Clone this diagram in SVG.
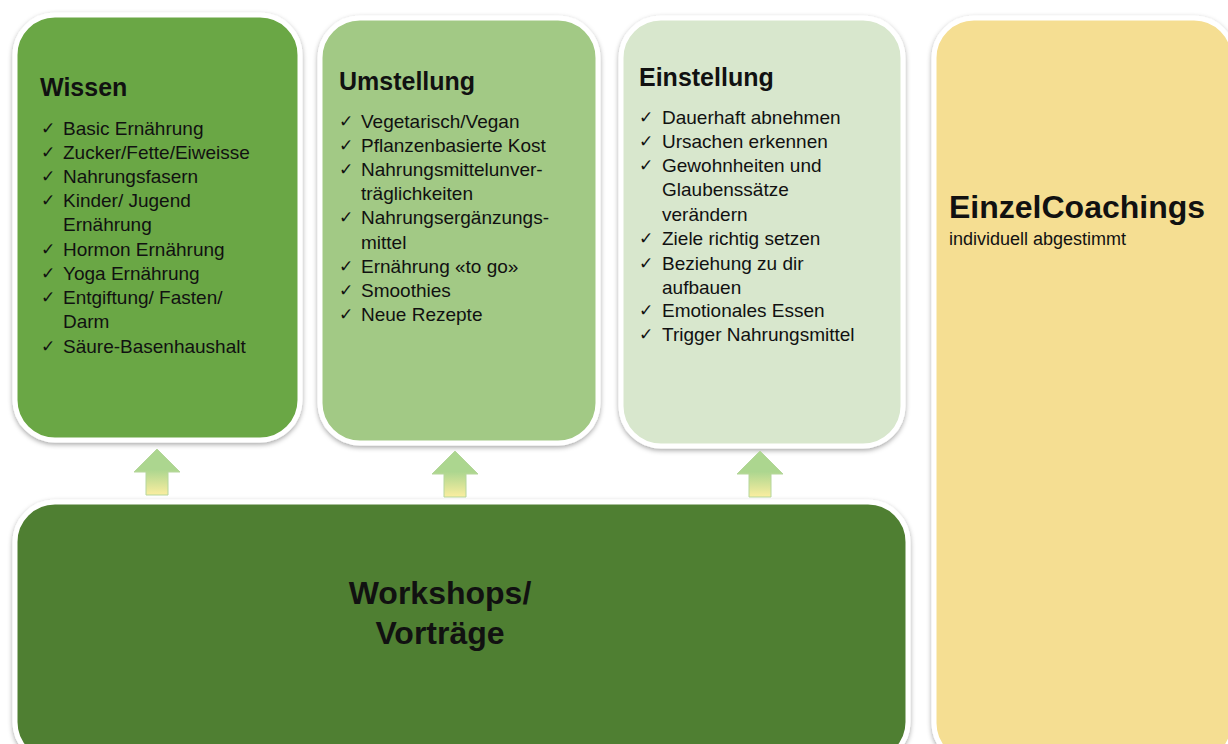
<svg xmlns="http://www.w3.org/2000/svg" width="1228" height="744" viewBox="0 0 1228 744">
<defs>
<filter id="sh" x="-10%" y="-10%" width="120%" height="120%">
<feDropShadow dx="0" dy="2" stdDeviation="2.5" flood-color="#000" flood-opacity="0.35"/>
</filter>
<linearGradient id="ag" x1="0" y1="0" x2="0" y2="1">
<stop offset="0.45" stop-color="#acd68f"/>
<stop offset="1" stop-color="#fbeea0"/>
</linearGradient>
<style>
.box{stroke:#fff;stroke-width:5;filter:url(#sh)}
.t{font-family:"Liberation Sans",Arial,sans-serif;fill:#111}
.h{font-size:25px;font-weight:bold}
.i{font-size:19px}
.ck{font-size:17px}
.ar{fill:url(#ag);stroke:#b5d69c;stroke-width:1}
</style>
</defs>
<rect width="1228" height="744" fill="#fff"/>

<g id="wissen">
<rect class="box" x="15" y="15" width="285" height="425" rx="40" fill="#6aa744"/>
<text class="t h" x="40" y="96">Wissen</text>
<g class="t ck"><text x="41" y="134">✓</text><text x="41" y="158">✓</text><text x="41" y="182">✓</text><text x="41" y="206">✓</text><text x="41" y="255">✓</text><text x="41" y="279">✓</text><text x="41" y="303">✓</text><text x="41" y="352">✓</text></g>
<g class="t i">
<text x="63" y="135">Basic Ernährung</text>
<text x="63" y="159">Zucker/Fette/Eiweisse</text>
<text x="63" y="183">Nahrungsfasern</text>
<text x="63" y="207">Kinder/ Jugend</text>
<text x="63" y="231">Ernährung</text>
<text x="63" y="256">Hormon Ernährung</text>
<text x="63" y="280">Yoga Ernährung</text>
<text x="63" y="304">Entgiftung/ Fasten/</text>
<text x="63" y="328">Darm</text>
<text x="63" y="353">Säure-Basenhaushalt</text>
</g>
</g>

<g id="umstellung">
<rect class="box" x="320" y="18" width="278" height="425" rx="40" fill="#a2c985"/>
<text class="t h" x="339" y="90">Umstellung</text>
<g class="t ck"><text x="339" y="127">✓</text><text x="339" y="151">✓</text><text x="339" y="175">✓</text><text x="339" y="223">✓</text><text x="339" y="272">✓</text><text x="339" y="296">✓</text><text x="339" y="320">✓</text></g>
<g class="t i">
<text x="361" y="128">Vegetarisch/Vegan</text>
<text x="361" y="152">Pflanzenbasierte Kost</text>
<text x="361" y="176">Nahrungsmittelunver-</text>
<text x="361" y="200">träglichkeiten</text>
<text x="361" y="224">Nahrungsergänzungs-</text>
<text x="361" y="249">mittel</text>
<text x="361" y="273">Ernährung «to go»</text>
<text x="361" y="297">Smoothies</text>
<text x="361" y="321">Neue Rezepte</text>
</g>
</g>

<g id="einstellung">
<rect class="box" x="621" y="18" width="282" height="428" rx="40" fill="#d8e7cd"/>
<text class="t h" x="639" y="86">Einstellung</text>
<g class="t ck"><text x="639" y="123">✓</text><text x="639" y="147">✓</text><text x="639" y="171">✓</text><text x="639" y="244">✓</text><text x="639" y="269">✓</text><text x="639" y="316">✓</text><text x="639" y="340">✓</text></g>
<g class="t i">
<text x="662" y="124">Dauerhaft abnehmen</text>
<text x="662" y="148">Ursachen erkennen</text>
<text x="662" y="172">Gewohnheiten und</text>
<text x="662" y="196">Glaubenssätze</text>
<text x="662" y="221">verändern</text>
<text x="662" y="245">Ziele richtig setzen</text>
<text x="662" y="270">Beziehung zu dir</text>
<text x="662" y="294">aufbauen</text>
<text x="662" y="317">Emotionales Essen</text>
<text x="662" y="341">Trigger Nahrungsmittel</text>
</g>
</g>

<g id="einzelcoachings">
<rect class="box" x="934" y="18" width="300" height="745" rx="40" fill="#f5de92"/>
<text class="t" x="949" y="218" font-size="32" font-weight="bold">EinzelCoachings</text>
<text class="t" x="949" y="245" font-size="18">individuell abgestimmt</text>
</g>

<g id="workshops">
<rect class="box" x="15" y="502" width="893" height="260" rx="40" fill="#507f32"/>
<text class="t" x="440" y="604" font-size="32" font-weight="bold" text-anchor="middle">Workshops/</text>
<text class="t" x="440" y="644" font-size="32" font-weight="bold" text-anchor="middle">Vorträge</text>
</g>

<g id="connectors">
<path class="ar" d="M157 449 L180 472 L168 472 L168 495 L146 495 L146 472 L134 472 Z"/>
<path class="ar" d="M455 451 L478 474 L466 474 L466 497 L444 497 L444 474 L432 474 Z"/>
<path class="ar" d="M760 451 L783 474 L771 474 L771 497 L749 497 L749 474 L737 474 Z"/>
</g>
</svg>
